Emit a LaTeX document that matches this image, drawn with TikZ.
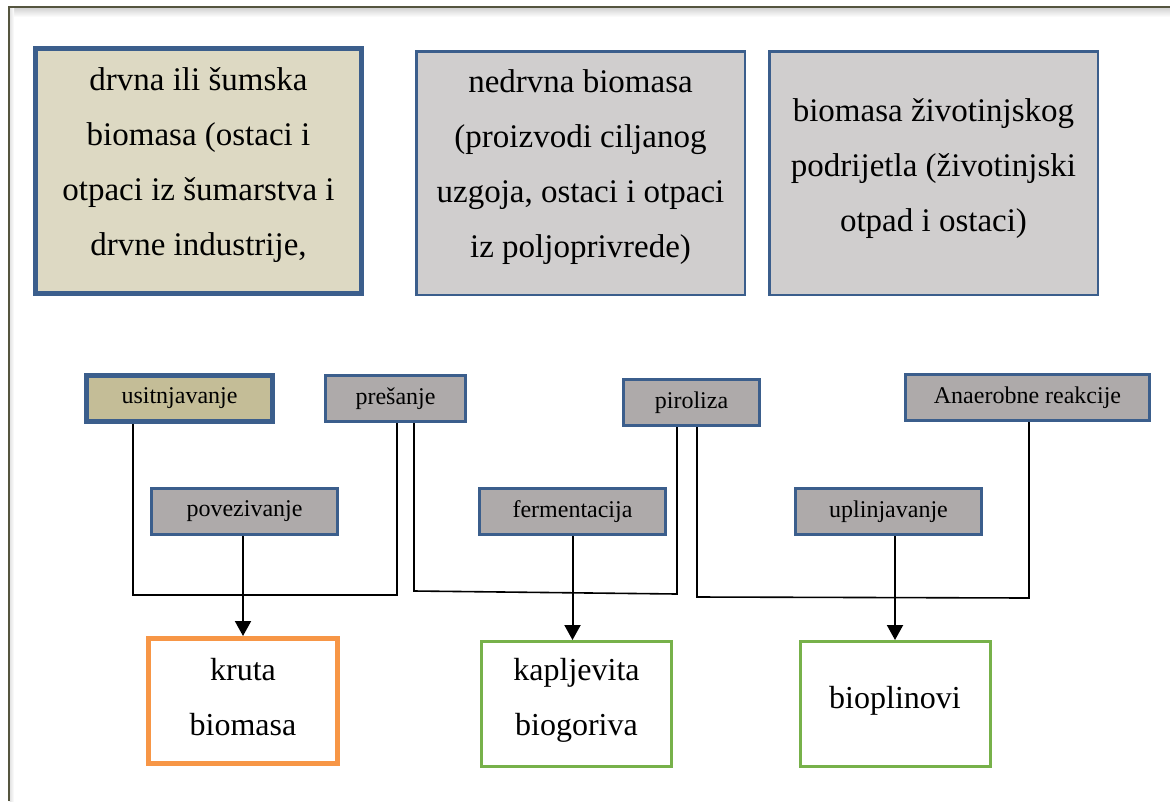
\documentclass[tikz,border=0pt]{standalone}
\usepackage{fontspec}
\setmainfont{Liberation Serif}
\usetikzlibrary{arrows.meta}
\definecolor{bblue}{HTML}{3B5E8C}
\definecolor{tanfill}{HTML}{DDD9C3}
\definecolor{lgrey}{HTML}{D0CECE}
\definecolor{dgrey}{HTML}{AEAAAA}
\definecolor{khaki}{HTML}{C4BD97}
\definecolor{orangeb}{HTML}{F79646}
\definecolor{greenb}{HTML}{77B14A}
\definecolor{framec}{HTML}{55553F}
\tikzset{
  bigbox/.style={draw=bblue, line width=2.5pt, fill=lgrey, rectangle, inner sep=0pt},
  bigtext/.style={align=center, font=\fontsize{33}{55}\selectfont, inner sep=0pt},
  smallbox/.style={draw=bblue, line width=3pt, fill=dgrey, rectangle, inner sep=0pt, minimum height=46pt, font=\fontsize{24}{28}\selectfont},
  outbox/.style={draw=greenb, line width=3pt, fill=white, rectangle, inner sep=0pt},
  outtext/.style={align=center, font=\fontsize{32}{55}\selectfont, inner sep=0pt},
  bracket/.style={line width=1.6pt, black},
  flow/.style={line width=2pt, black, -{Triangle[width=16pt,length=15pt]}}
}
\begin{document}
\begin{tikzpicture}[x=1pt,y=-1pt]
\useasboundingbox (0,0) rectangle (1170,801);
% outer frame
\shade[top color=black!18, bottom color=white] (9.5,7.5) rectangle (1170,17);
\shade[left color=black!12, right color=white] (9.5,7.5) rectangle (14,801);
\draw[framec, line width=2pt] (8.5,801) -- (8.5,6.5) -- (1170,6.5);

% top source boxes
\node[bigbox, fill=tanfill, line width=5pt, minimum width=326pt, minimum height=245pt] (b1) at (198.5,171) {};
\node[bigtext] (b1t) at (198.5,165.5) {drvna ili šumska\\biomasa (ostaci i\\otpaci iz šumarstva i\\drvne industrije,};
\node[bigbox, minimum width=328.5pt, minimum height=243.5pt] (b2) at (580.5,173) {};
\node[bigtext] (b2t) at (580.5,167.5) {nedrvna biomasa\\(proizvodi ciljanog\\uzgoja, ostaci i otpaci\\iz poljoprivrede)};
\node[bigbox, minimum width=328.5pt, minimum height=243.5pt] (b3) at (933.5,173) {};
\node[bigtext] (b3t) at (933.5,169) {biomasa životinjskog\\podrijetla (životinjski\\otpad i ostaci)};

% process boxes
\node[smallbox, fill=khaki, line width=5pt, minimum width=186pt] (us) at (179.5,398.5) {usitnjavanje};
\node[smallbox, minimum width=140pt] (pr) at (395.5,398.5) {prešanje};
\node[smallbox, minimum width=136pt] (pi) at (691.5,402.5) {piroliza};
\node[smallbox, minimum width=244pt] (an) at (1027.5,397.5) {Anaerobne reakcije};
\node[smallbox, minimum width=186pt] (po) at (244.5,511.5) {povezivanje};
\node[smallbox, minimum width=186pt] (fe) at (572.5,511.5) {fermentacija};
\node[smallbox, minimum width=186pt] (up) at (888.5,511.5) {uplinjavanje};

% output boxes
\node[outbox, draw=orangeb, line width=5pt, minimum width=189pt, minimum height=125pt] (kr) at (243,701) {};
\node[outtext] (krt) at (243,697.5) {kruta\\biomasa};
\node[outbox, minimum width=190pt, minimum height=125pt] (ka) at (576.5,704) {};
\node[outtext] (kat) at (576.5,700) {kapljevita\\biogoriva};
\node[outbox, minimum width=190pt, minimum height=125pt] (bp) at (895,704) {};
\node[outtext] (bpt) at (895,700.5) {bioplinovi};

% brackets
\coordinate (c1) at (133,595);
\coordinate (c2) at (397,595);
\coordinate (c3) at (414,591);
\coordinate (c4) at (677,594);
\coordinate (c5) at (697,597);
\coordinate (c6) at (1029,598);
\draw[bracket] (us.south -| c1) -- (c1) -- (c2) -- (pr.south -| c2);
\draw[bracket] (pr.south -| c3) -- (c3) -- (c4) -- (pi.south -| c4);
\draw[bracket] (pi.south -| c5) -- (c5) -- (c6) -- (an.south -| c6);

% arrows
\draw[flow] (po.south -| kr.north) -- (kr.north);
\draw[flow] (fe.south) -- (fe.south |- ka.north);
\draw[flow] (up.south -| bp.north) -- (bp.north);
\end{tikzpicture}
\end{document}
